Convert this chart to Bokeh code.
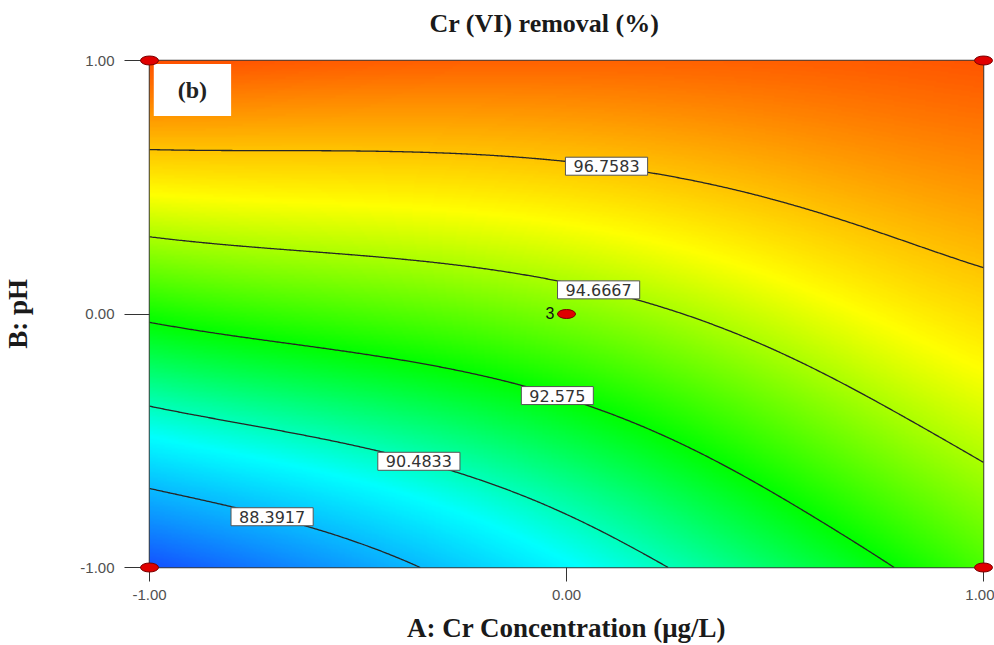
import numpy as np
from bokeh.plotting import figure
from bokeh.models import Range1d, LinearColorMapper, Label, FixedTicker, NumeralTickFormatter, Title
from bokeh.core.properties import value
from bokeh.embed import file_html
from bokeh.resources import INLINE

# ---- values ----
grid_A = [-1.0, -0.5, 0.0, 0.5, 1.0]          # A: Cr concentration (coded)
grid_B = [-1.0, -0.5, 0.0, 0.5, 1.0]          # B: pH (coded)
# Cr(VI) removal (%) estimated on the grid, rows = B (low -> high), cols = A
removal = [
    [86.35, 87.90, 89.60, 91.45, 93.45],
    [89.61, 90.61, 91.80, 93.36, 94.91],
    [92.78, 93.43, 94.11, 95.18, 96.28],
    [95.86, 96.04, 96.32, 96.93, 97.56],
    [98.85, 98.60, 98.50, 98.55, 98.75],
]
contour_levels = [88.3917, 90.4833, 92.575, 94.6667, 96.7583]
label_A = [-0.706, -0.354, -0.022, 0.077, 0.096]   # where each contour label sits (A)
design_A = [-1, 1, -1, 1, 0]
design_B = [-1, -1, 1, 1, 0]
design_reps = [1, 1, 1, 1, 3]
color_low, color_high = 86.30, 98.85
tick_values = [-1.0, 0.0, 1.0]

# ---- smooth surface passing through the grid values (tensor polynomial) ----
GA, GB = np.meshgrid(grid_A, grid_B)
Zg = np.array(removal)
deg = len(grid_A) - 1

def basis(a, b):
    a = np.asarray(a, float)
    b = np.asarray(b, float)
    return np.stack([a ** i * b ** j for i in range(deg + 1) for j in range(deg + 1)], axis=-1)

coef = np.linalg.solve(basis(GA.ravel(), GB.ravel()), Zg.ravel())

def surface(a, b):
    return basis(a, b) @ coef

nx, ny = 600, 400
xs = np.linspace(-1, 1, nx)
ys = np.linspace(-1, 1, ny)
XX, YY = np.meshgrid(xs, ys)
Z = surface(XX, YY)

# ---- palette blue -> cyan -> green -> yellow -> orange-red ----
stops = [0.0, 0.27, 0.5, 0.75, 1.0]
cols = [(20, 80, 255), (0, 255, 255), (0, 255, 0), (255, 255, 0), (255, 80, 0)]
t = np.linspace(0, 1, 256)
rr = np.interp(t, stops, [c[0] for c in cols])
gg = np.interp(t, stops, [c[1] for c in cols])
bb = np.interp(t, stops, [c[2] for c in cols])
palette = ["#%02x%02x%02x" % (int(round(r)), int(round(g)), int(round(b))) for r, g, b in zip(rr, gg, bb)]
mapper = LinearColorMapper(palette=palette, low=color_low, high=color_high)

p = figure(width=994, height=645, x_range=Range1d(-1, 1), y_range=Range1d(-1, 1),
           output_backend="svg", toolbar_location=None, title=None,
           min_border_left=147, min_border_right=11, min_border_top=60, min_border_bottom=78)
p.background_fill_color = "white"
p.border_fill_color = "white"
p.grid.visible = False
p.outline_line_color = "#3a3a3a"
p.outline_line_width = 1.5

# blank (white) spacer panel next to the frame, then the title above it
p.add_layout(Title(text=".", text_font_size="2px", text_color="white", standoff=20), "above")
p.add_layout(Title(text="Cr (VI) removal (%)", align="left", offset=280, standoff=0,
                   text_font="Liberation Serif", text_font_style="bold", text_font_size="26px",
                   text_color="#1a1a1a"), "above")

p.image(image=[Z], x=-1, y=-1, dw=2, dh=2, color_mapper=mapper)
p.contour(x=xs, y=ys, z=Z, levels=contour_levels, line_color="#262626", line_width=1.3)

# contour labels, placed on their contour line
bfine = np.linspace(-1, 1, 4001)
for lev, a in zip(contour_levels, label_A):
    f = surface(np.full_like(bfine, a), bfine) - lev
    idx = np.where(np.sign(f[:-1]) != np.sign(f[1:]))[0][0]
    bval = bfine[idx] - f[idx] * (bfine[idx + 1] - bfine[idx]) / (f[idx + 1] - f[idx])
    p.add_layout(Label(x=a, y=bval, text="%g" % lev, text_align="center", text_baseline="middle",
                       text_font="DejaVu Sans", text_font_size="16px", text_color="#333333",
                       background_fill_color="white", border_line_color="#555555", border_line_width=1,
                       padding=dict(left=8, right=8, top=3, bottom=3)))

# design points
ell = p.ellipse(x=design_A, y=design_B, width=18, height=9, width_units="screen", height_units="screen",
                fill_color="#e00000", line_color="#7a0000", line_width=1)
ell.level = "overlay"
rep_x = [a for a, r in zip(design_A, design_reps) if r > 1]
rep_y = [b for b, r in zip(design_B, design_reps) if r > 1]
rep_t = [str(r) for r in design_reps if r > 1]
p.text(x=rep_x, y=rep_y, text=rep_t, x_offset=-12, y_offset=-1, text_align="right", text_baseline="middle",
       text_font=value("Liberation Sans"), text_font_size="16px", text_color="#111111")

# panel tag
p.add_layout(Label(x=-0.897, y=0.884, text="(b)", text_align="center", text_baseline="middle",
                   text_font="Liberation Serif", text_font_style="bold", text_font_size="24px",
                   text_color="#222222", background_fill_color="white",
                   padding=dict(left=24, right=24, top=13, bottom=13)))

for ax in (p.xaxis[0], p.yaxis[0]):
    ax.ticker = FixedTicker(ticks=tick_values)
    ax.formatter = NumeralTickFormatter(format="0.00")
    ax.axis_line_color = None
    ax.minor_tick_line_color = None
    ax.major_tick_in = 0
    ax.major_tick_line_color = "#333333"
    ax.major_label_text_font = "Liberation Sans"
    ax.major_label_text_font_size = "15px"
    ax.major_label_text_color = "#505050"
    ax.axis_label_text_font = "Liberation Serif"
    ax.axis_label_text_font_style = "bold"
    ax.axis_label_text_font_size = "27px"
    ax.axis_label_text_color = "#1a1a1a"

p.xaxis[0].axis_label = "A: Cr Concentration (μg/L)"
p.xaxis[0].major_tick_out = 14
p.xaxis[0].major_label_standoff = 8
p.xaxis[0].axis_label_standoff = 10
p.yaxis[0].axis_label = "B: pH"
p.yaxis[0].major_tick_out = 25
p.yaxis[0].major_label_standoff = 10
p.yaxis[0].axis_label_standoff = 44

open("out.html", "w").write(file_html(p, INLINE))
